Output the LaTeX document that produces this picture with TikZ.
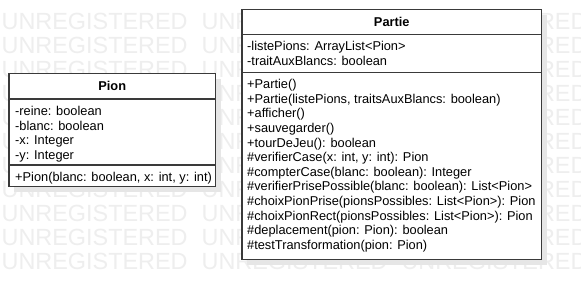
\documentclass[tikz,border=0pt]{standalone}
\usepackage{fontspec}
\setmainfont{Liberation Sans}
\usepackage{xcolor}
\usepackage{tikz}
\definecolor{umlink}{HTML}{3A3A3A}
\definecolor{umlshadow}{HTML}{E6E6E6}
\definecolor{wmgray}{HTML}{EEEEEE}
\newcommand\wmrow{UNREGISTERED\hspace{14pt}UNREGISTERED\hspace{14pt}UNREGISTERED}
\tikzset{
  classbox/.style={draw=umlink, fill=white, line width=1.2pt},
  boxshadow/.style={fill=umlshadow, draw=none},
  divider/.style={draw=umlink, line width=1.2pt},
  classname/.style={font=\fontsize{12.8}{15}\selectfont\bfseries, inner sep=0pt},
  members/.style={font=\fontsize{12.8}{14.6}\selectfont, align=left, anchor=north west, inner sep=0pt},
  watermark/.style={font=\fontsize{23.4}{24}\selectfont, text=wmgray, anchor=north west, inner sep=0pt}
}

\begin{document}
\begin{tikzpicture}[x=1pt,y=-1pt]
  \useasboundingbox[fill=white] (0,0) rectangle (581,300);

  % background lettering, one row every 24px
  \node[watermark] (wm1) at (1.5,13) {\wmrow};
  \node[watermark] (wm2) at (1.5,37) {\wmrow};
  \node[watermark] (wm3) at (1.5,61) {\wmrow};
  \node[watermark] (wm4) at (1.5,85) {\wmrow};
  \node[watermark] (wm5) at (1.5,109) {\wmrow};
  \node[watermark] (wm6) at (1.5,133) {\wmrow};
  \node[watermark] (wm7) at (1.5,157) {\wmrow};
  \node[watermark] (wm8) at (1.5,181) {\wmrow};
  \node[watermark] (wm9) at (1.5,205) {\wmrow};
  \node[watermark] (wm10) at (1.5,229) {\wmrow};
  \node[watermark] (wm11) at (1.5,253) {\wmrow};

  % class Pion
  \fill[boxshadow] (14,78.5) rectangle (220.5,191.5);
  \draw[classbox] (9,73.5) rectangle (215.5,186.5);
  \draw[divider] (9,99) -- (215.5,99);
  \draw[divider] (9,165) -- (215.5,165);
  \node[classname] (pionName) at (112.25,86.25) {Pion};
  \node[members] (pionAttrs) at (15,106.2) {-reine: boolean\\-blanc: boolean\\-x: Integer\\-y: Integer};
  \node[members] (pionOps) at (15,171.7) {+Pion(blanc: boolean, x: int, y: int)};

  % class Partie
  \fill[boxshadow] (247,14.5) rectangle (546.5,264.5);
  \draw[classbox] (242,9.5) rectangle (541.5,259.5);
  \draw[divider] (242,34.5) -- (541.5,34.5);
  \draw[divider] (242,72.5) -- (541.5,72.5);
  \node[classname] (partieName) at (391.75,22) {Partie};
  \node[members] (partieAttrs) at (247,41.2) {-listePions: ArrayList<Pion>\\-traitAuxBlancs: boolean};
  \node[members] (partieOps) at (247,79.2) {+Partie()\\
    +Partie(listePions, traitsAuxBlancs: boolean)\\
    +afficher()\\
    +sauvegarder()\\
    +tourDeJeu(): boolean\\
    \#verifierCase(x: int, y: int): Pion\\
    \#compterCase(blanc: boolean): Integer\\
    \#verifierPrisePossible(blanc: boolean): List<Pion>\\
    \#choixPionPrise(pionsPossibles: List<Pion>): Pion\\
    \#choixPionRect(pionsPossibles: List<Pion>): Pion\\
    \#deplacement(pion: Pion): boolean\\
    \#testTransformation(pion: Pion)};
\end{tikzpicture}
\end{document}
